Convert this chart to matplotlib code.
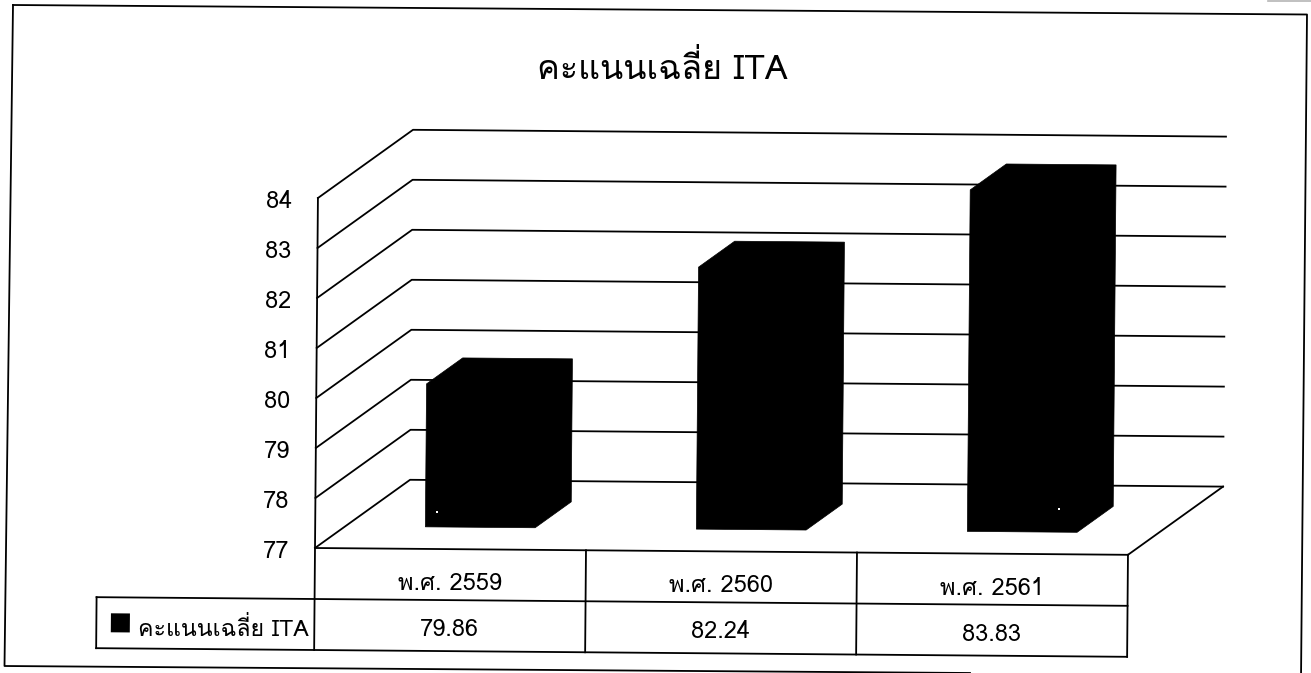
import matplotlib
matplotlib.use('Agg')
import matplotlib.pyplot as plt
from matplotlib.transforms import Affine2D

plt.rcParams['font.family'] = ['Loma', 'DejaVu Sans']

# data
title = 'คะแนนเฉลี่ย ITA'
series_name = 'คะแนนเฉลี่ย ITA'
years = ['พ.ศ. 2559', 'พ.ศ. 2560', 'พ.ศ. 2561']
scores = [79.86, 82.24, 83.83]
y_ticks = [77, 78, 79, 80, 81, 82, 83, 84]

# chart geometry in page pixels (the scan sits slightly rotated)
ox, oy = 315, 548
cat_w = 271
unit_h = 50
depth_x, depth_y = 94.5, -69
row_h = 51
legend_left = -218
bar_left, bar_right = 0.295, 0.70
bar_d0, bar_d1 = 0.32, 0.70


def project(pos, value=77, depth=0):
    return (ox + pos * cat_w + depth * depth_x,
            oy - (value - 77) * unit_h + depth * depth_y)


def line(ax, pts, lw=1.3, z=1):
    xs, ys = zip(*pts)
    ax.plot(xs, ys, color='black', lw=lw, zorder=z, transform=ax.tilt,
            solid_capstyle='projecting')


def label(ax, x, y, s, dy=0, **kw):
    px, py = ax.tilt_pt.transform((x, y))
    ax.text(px, py + dy, s, color='black', va='baseline', **kw)


fig = plt.figure(figsize=(13.11, 6.73), dpi=100)
ax = fig.add_axes([0, 0, 1, 1])
ax.set_xlim(0, 1311)
ax.set_ylim(673, 0)
ax.axis('off')
ax.tilt_pt = Affine2D().rotate_deg_around(ox, oy, 0.48)
ax.tilt = ax.tilt_pt + ax.transData

# outer frame, skewed like the scan, runs off the bottom edge
ax.plot([13, 1307, 1301], [5, 14.5, 680], color='black', lw=1.3)
ax.plot([13, 4.5, 970], [5, 666, 673], color='black', lw=1.3)

ax.text(662.5, 79, title, color='black', va='baseline', fontsize=24.5, ha='center')

# walls and floor
n = len(years)
for v in y_ticks:
    line(ax, [project(0, v, 0), project(0, v, 1), project(n, v, 1)])
    label(ax, 289, project(0, v, 0)[1], str(v), dy=10, fontsize=17, ha='right')
line(ax, [project(n, 77, 0), project(n, 77, 1)])
line(ax, [project(0, 84, 0), project(0, 77, 0)])

# bars, drawn as one black block
for i, score in enumerate(scores):
    l, r = i + bar_left, i + bar_right
    outline = [project(l, 77, bar_d0), project(r, 77, bar_d0),
               project(r, 77, bar_d1), project(r, score, bar_d1),
               project(l, score, bar_d1), project(l, score, bar_d0)]
    xs, ys = zip(*outline)
    ax.fill(xs, ys, color='black', lw=0.5, zorder=3, transform=ax.tilt)

# white specks left by the scan
ax.plot([437, 1059], [512, 509], ls='none', marker='s', ms=1.6, color='white',
        mew=0, zorder=4)

# data table under the floor
for i in range(n + 1):
    x = project(i)[0]
    line(ax, [(x, oy), (x, oy + 2 * row_h)])
right = project(n)[0]
line(ax, [(ox, oy), (right, oy)])
line(ax, [(ox + legend_left, oy + row_h), (right, oy + row_h)])
line(ax, [(ox + legend_left, oy + 2 * row_h), (right, oy + 2 * row_h)])
line(ax, [(ox + legend_left, oy + row_h), (ox + legend_left, oy + 2 * row_h)])

for i, (yr, score) in enumerate(zip(years, scores)):
    cx = project(i + 0.5)[0]
    label(ax, cx, oy + 0.52 * row_h, yr, dy=14.5, fontsize=17, ha='center')
    label(ax, cx, oy + 1.52 * row_h, f'{score:.2f}', dy=9.5, fontsize=17, ha='center')

# legend key and name in the table's left cell
kx, ky = ox + legend_left + 14.5, oy + 1.5 * row_h
ax.fill([kx, kx + 19, kx + 19, kx], [ky - 9.5, ky - 9.5, ky + 9.5, ky + 9.5],
        color='black', lw=0, transform=ax.tilt, zorder=3)
label(ax, kx + 27, ky, series_name, dy=12.5, fontsize=16.7, ha='left')

# grey scrap at the top right edge of the scan
ax.plot([1268, 1311], [0.5, 0.5], color='#b5b5b5', lw=1.2)

fig.savefig('out.png', dpi=100)
